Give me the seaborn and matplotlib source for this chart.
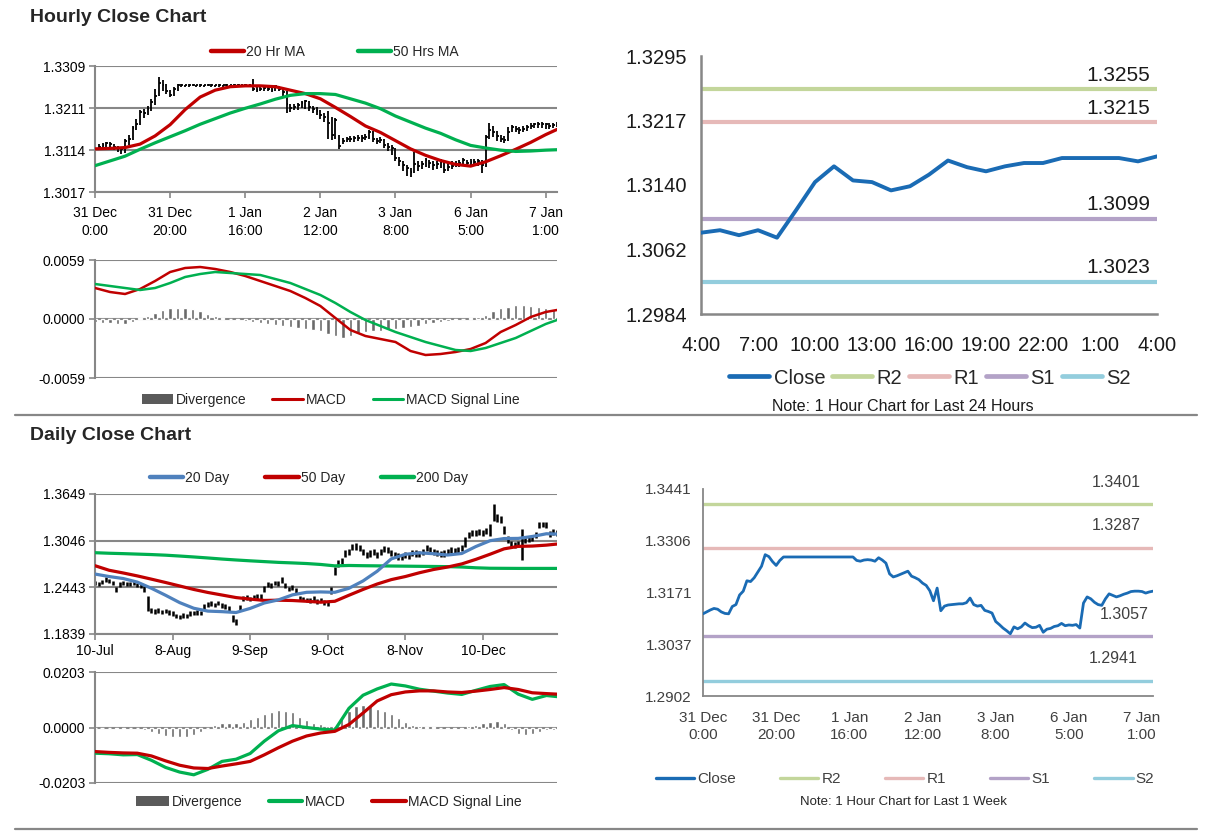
import matplotlib
matplotlib.use("Agg")
import matplotlib.pyplot as plt
import seaborn as sns
from matplotlib.lines import Line2D
from matplotlib.patches import Patch

# ---------------- DATA ----------------
# Hourly (last week) category axis
hourly_tick_pos = [0, 20, 40, 60, 80, 100, 120]
hourly_tick_labels = ["31 Dec\n0:00", "31 Dec\n20:00", "1 Jan\n16:00", "2 Jan\n12:00",
                      "3 Jan\n8:00", "6 Jan\n5:00", "7 Jan\n1:00"]
hourly_yticks = [1.3017, 1.3114, 1.3211, 1.3309]

hourly_close = [
    1.3116, 1.3121, 1.3126, 1.3130, 1.3128, 1.3121, 1.3117, 1.3116, 1.3135, 1.3140,
    1.3165, 1.3175, 1.3202, 1.3200, 1.3210, 1.3225, 1.3240, 1.3270, 1.3265, 1.3252,
    1.3242, 1.3255, 1.3264, 1.3264, 1.3264, 1.3264, 1.3264, 1.3264, 1.3264, 1.3264,
    1.3264, 1.3264, 1.3264, 1.3264, 1.3264, 1.3264, 1.3264, 1.3264, 1.3264, 1.3264,
    1.3264, 1.3264, 1.3255, 1.3253, 1.3256, 1.3257, 1.3256, 1.3253, 1.3262, 1.3256,
    1.3248, 1.3220, 1.3212, 1.3215, 1.3219, 1.3223, 1.3227, 1.3214, 1.3210, 1.3205,
    1.3196, 1.3190, 1.3176, 1.3150, 1.3183, 1.3124, 1.3136, 1.3139, 1.3140, 1.3141,
    1.3142, 1.3142, 1.3145, 1.3157, 1.3140, 1.3136, 1.3138, 1.3125, 1.3122, 1.3118,
    1.3096, 1.3088, 1.3079, 1.3072, 1.3064, 1.3082, 1.3077, 1.3082, 1.3092, 1.3085,
    1.3080, 1.3081, 1.3086, 1.3068, 1.3076, 1.3078, 1.3083, 1.3085, 1.3091, 1.3085,
    1.3087, 1.3086, 1.3088, 1.3079, 1.3144, 1.3160, 1.3155, 1.3146, 1.3140, 1.3138,
    1.3155, 1.3168, 1.3164, 1.3160, 1.3163, 1.3167, 1.3170, 1.3174, 1.3175, 1.3175,
    1.3174, 1.3170, 1.3173, 1.3175]

hourly_low = [
    1.3110, 1.3114, 1.3116, 1.3121, 1.3118, 1.3114, 1.3110, 1.3106, 1.3108, 1.3126,
    1.3138, 1.3160, 1.3172, 1.3188, 1.3195, 1.3204, 1.3218, 1.3240, 1.3252, 1.3245,
    1.3236, 1.3240, 1.3252, 1.3261, 1.3260, 1.3261, 1.3262, 1.3261, 1.3260, 1.3261,
    1.3262, 1.3261, 1.3260, 1.3261, 1.3261, 1.3262, 1.3260, 1.3261, 1.3261, 1.3260,
    1.3261, 1.3260, 1.3250, 1.3249, 1.3250, 1.3251, 1.3250, 1.3249, 1.3252, 1.3250,
    1.3240, 1.3201, 1.3203, 1.3206, 1.3208, 1.3212, 1.3210, 1.3205, 1.3200, 1.3195,
    1.3186, 1.3180, 1.3140, 1.3137, 1.3140, 1.3117, 1.3128, 1.3132, 1.3133, 1.3134,
    1.3135, 1.3134, 1.3138, 1.3140, 1.3132, 1.3128, 1.3130, 1.3118, 1.3112, 1.3102,
    1.3088, 1.3078, 1.3066, 1.3055, 1.3052, 1.3062, 1.3066, 1.3070, 1.3076, 1.3072,
    1.3068, 1.3070, 1.3072, 1.3060, 1.3066, 1.3070, 1.3074, 1.3076, 1.3080, 1.3075,
    1.3078, 1.3077, 1.3078, 1.3062, 1.3075, 1.3140, 1.3145, 1.3136, 1.3133, 1.3130,
    1.3135, 1.3155, 1.3155, 1.3152, 1.3156, 1.3158, 1.3162, 1.3165, 1.3166, 1.3166,
    1.3164, 1.3162, 1.3165, 1.3167]

hourly_high = [
    1.3124, 1.3128, 1.3131, 1.3134, 1.3132, 1.3128, 1.3124, 1.3121, 1.3140, 1.3150,
    1.3170, 1.3186, 1.3206, 1.3210, 1.3217, 1.3232, 1.3255, 1.3283, 1.3276, 1.3268,
    1.3254, 1.3260, 1.3267, 1.3267, 1.3266, 1.3267, 1.3268, 1.3266, 1.3267, 1.3266,
    1.3267, 1.3268, 1.3266, 1.3267, 1.3266, 1.3267, 1.3266, 1.3268, 1.3267, 1.3266,
    1.3267, 1.3266, 1.3278, 1.3260, 1.3261, 1.3261, 1.3260, 1.3258, 1.3266, 1.3263,
    1.3256, 1.3252, 1.3221, 1.3222, 1.3224, 1.3227, 1.3230, 1.3228, 1.3216, 1.3213,
    1.3208, 1.3200, 1.3205, 1.3190, 1.3188, 1.3150, 1.3143, 1.3145, 1.3146, 1.3147,
    1.3148, 1.3148, 1.3152, 1.3160, 1.3158, 1.3143, 1.3144, 1.3140, 1.3130, 1.3125,
    1.3120, 1.3098, 1.3090, 1.3080, 1.3072, 1.3109, 1.3088, 1.3090, 1.3096, 1.3092,
    1.3088, 1.3088, 1.3094, 1.3090, 1.3084, 1.3088, 1.3090, 1.3091, 1.3096, 1.3092,
    1.3094, 1.3093, 1.3094, 1.3092, 1.3150, 1.3176, 1.3170, 1.3158, 1.3150, 1.3146,
    1.3168, 1.3172, 1.3170, 1.3168, 1.3170, 1.3172, 1.3176, 1.3178, 1.3179, 1.3180,
    1.3178, 1.3176, 1.3178, 1.3180]

ma_hours = [0, 4, 8, 12, 16, 20, 24, 28, 32, 36, 40, 44, 48, 52, 56, 60, 64, 68, 72, 76,
            80, 84, 88, 92, 96, 100, 104, 108, 112, 116, 120, 123]
ma20_hr = [1.3117, 1.3118, 1.3120, 1.3128, 1.3147, 1.3173, 1.3208, 1.3237, 1.3253, 1.3261,
           1.3263, 1.3263, 1.3261, 1.3253, 1.3245, 1.3233, 1.3213, 1.3192, 1.3170, 1.3155,
           1.3136, 1.3117, 1.3102, 1.3090, 1.3081, 1.3077, 1.3087, 1.3101, 1.3116, 1.3132,
           1.3150, 1.3162]
ma50_hr = [1.3078, 1.3089, 1.3100, 1.3116, 1.3131, 1.3145, 1.3159, 1.3174, 1.3187, 1.3200,
           1.3211, 1.3221, 1.3232, 1.3241, 1.3245, 1.3245, 1.3243, 1.3233, 1.3223, 1.3210,
           1.3193, 1.3179, 1.3165, 1.3153, 1.3138, 1.3125, 1.3119, 1.3114, 1.3111, 1.3112,
           1.3114, 1.3115]

hr_macd = [0.0031, 0.0027, 0.0025, 0.0030, 0.0038, 0.0047, 0.0051, 0.0052, 0.0050, 0.0047,
           0.0043, 0.0038, 0.0033, 0.0028, 0.0021, 0.0013, 0.0001, -0.0011, -0.0017, -0.0020,
           -0.0023, -0.0032, -0.0036, -0.0035, -0.0033, -0.0030, -0.0024, -0.0013, -0.0006, 0.0002,
           0.0007, 0.0009]
hr_signal = [0.0035, 0.0033, 0.0031, 0.0029, 0.0031, 0.0036, 0.0042, 0.0045, 0.0047, 0.0046,
             0.0045, 0.0044, 0.0040, 0.0036, 0.0030, 0.0024, 0.0016, 0.0007, -0.0001, -0.0007,
             -0.0013, -0.0018, -0.0023, -0.0027, -0.0031, -0.0032, -0.0029, -0.0024, -0.0019, -0.0012,
             -0.0005, -0.0001]
div_hours = [0, 2, 4, 6, 8, 10, 12, 14, 16, 18, 20, 22, 24, 26, 28, 30, 32, 34, 36, 38,
             40, 42, 44, 46, 48, 50, 52, 54, 56, 58, 60, 62, 64, 66, 68, 70, 72, 74, 76, 78,
             80, 82, 84, 86, 88, 90, 92, 94, 96, 98, 100, 102, 104, 106, 108, 110, 112, 114,
             116, 118, 120, 122]
hr_divergence = [-0.0003, -0.0004, -0.0004, -0.0005, -0.0005, -0.0003, 0.0001, 0.0003, 0.0006, 0.0009,
                 0.0011, 0.0011, 0.0011, 0.0010, 0.0008, 0.0005, 0.0003, 0.0001, 0.0000, -0.0001,
                 -0.0002, -0.0003, -0.0004, -0.0005, -0.0006, -0.0007, -0.0008, -0.0009, -0.0010, -0.0011,
                 -0.0012, -0.0015, -0.0017, -0.0019, -0.0017, -0.0014, -0.0013, -0.0012, -0.0012, -0.0011,
                 -0.0010, -0.0009, -0.0008, -0.0007, -0.0005, -0.0004, -0.0003, -0.0002, -0.0001, 0.0000,
                 0.0001, 0.0002, 0.0004, 0.0008, 0.0011, 0.0012, 0.0014, 0.0014, 0.0013, 0.0012,
                 0.0011, 0.0010]
hr_macd_yticks = [-0.0059, 0.0, 0.0059]

# Last 24 hours
h24_tick_labels = ["4:00", "7:00", "10:00", "13:00", "16:00", "19:00", "22:00", "1:00", "4:00"]
h24_tick_pos = [0, 3, 6, 9, 12, 15, 18, 21, 24]
h24_close = [1.3082, 1.3085, 1.3079, 1.3085, 1.3076, 1.3109, 1.3143, 1.3162, 1.3145, 1.3143,
             1.3133, 1.3138, 1.3152, 1.3169, 1.3161, 1.3156, 1.3162, 1.3166, 1.3166, 1.3172,
             1.3172, 1.3172, 1.3172, 1.3168, 1.3174]
h24_yticks = [1.2984, 1.3062, 1.3140, 1.3217, 1.3295]
h24_levels = {"R2": 1.3255, "R1": 1.3215, "S1": 1.3099, "S2": 1.3023}

# Last week levels
wk_yticks = [1.2902, 1.3037, 1.3171, 1.3306, 1.3441]
wk_levels = {"R2": 1.3401, "R1": 1.3287, "S1": 1.3057, "S2": 1.2941}

# Daily
daily_tick_pos = [0, 22, 44, 66, 88, 110]
daily_tick_labels = ["10-Jul", "8-Aug", "9-Sep", "9-Oct", "8-Nov", "10-Dec"]
daily_yticks = [1.1839, 1.2443, 1.3046, 1.3649]
daily_low = [
    1.2470, 1.2465, 1.2480, 1.2510, 1.2500, 1.2470, 1.2385, 1.2450, 1.2470, 1.2465,
    1.2460, 1.2470, 1.2450, 1.2430, 1.2380, 1.2140, 1.2110, 1.2100, 1.2115, 1.2095,
    1.2105, 1.2090, 1.2070, 1.2040, 1.2030, 1.2050, 1.2045, 1.2075, 1.2080, 1.2090,
    1.2085, 1.2150, 1.2190, 1.2200, 1.2185, 1.2210, 1.2180, 1.2165, 1.2130, 1.1990,
    1.1960, 1.2130, 1.2260, 1.2280, 1.2260, 1.2280, 1.2295, 1.2290, 1.2380, 1.2450,
    1.2440, 1.2470, 1.2460, 1.2495, 1.2440, 1.2390, 1.2410, 1.2360, 1.2265, 1.2260,
    1.2250, 1.2240, 1.2270, 1.2230, 1.2250, 1.2220, 1.2195, 1.2350, 1.2600, 1.2700,
    1.2740, 1.2840, 1.2860, 1.2920, 1.2930, 1.2910, 1.2860, 1.2820, 1.2840, 1.2860,
    1.2820, 1.2860, 1.2900, 1.2890, 1.2850, 1.2820, 1.2800, 1.2790, 1.2820, 1.2810,
    1.2850, 1.2840, 1.2830, 1.2860, 1.2910, 1.2880, 1.2860, 1.2850, 1.2830, 1.2840,
    1.2860, 1.2880, 1.2870, 1.2890, 1.2910, 1.2970, 1.3080, 1.3100, 1.3110, 1.3120,
    1.3100, 1.3130, 1.3110, 1.3300, 1.3290, 1.3280, 1.3130, 1.3010, 1.2960, 1.2950,
    1.2960, 1.2800, 1.3010, 1.3030, 1.3040, 1.3080, 1.3210, 1.3220, 1.3210, 1.3090,
    1.3120, 1.3100]
daily_high = [
    1.2520, 1.2515, 1.2535, 1.2570, 1.2555, 1.2525, 1.2445, 1.2505, 1.2530, 1.2515,
    1.2510, 1.2520, 1.2500, 1.2485, 1.2460, 1.2330, 1.2170, 1.2160, 1.2175, 1.2155,
    1.2160, 1.2150, 1.2130, 1.2095, 1.2090, 1.2110, 1.2100, 1.2135, 1.2140, 1.2150,
    1.2140, 1.2225, 1.2250, 1.2260, 1.2245, 1.2270, 1.2240, 1.2225, 1.2200, 1.2090,
    1.2030, 1.2220, 1.2330, 1.2340, 1.2320, 1.2340, 1.2355, 1.2350, 1.2455, 1.2510,
    1.2500, 1.2530, 1.2520, 1.2570, 1.2500, 1.2450, 1.2470, 1.2430, 1.2335, 1.2320,
    1.2310, 1.2300, 1.2330, 1.2290, 1.2310, 1.2280, 1.2250, 1.2450, 1.2700, 1.2800,
    1.2820, 1.2920, 1.2940, 1.3000, 1.3010, 1.2990, 1.2940, 1.2900, 1.2920, 1.2940,
    1.2900, 1.2940, 1.2980, 1.2970, 1.2930, 1.2900, 1.2880, 1.2870, 1.2900, 1.2890,
    1.2930, 1.2920, 1.2910, 1.2940, 1.2990, 1.2960, 1.2940, 1.2930, 1.2910, 1.2920,
    1.2940, 1.2960, 1.2950, 1.2970, 1.2990, 1.3090, 1.3160, 1.3180, 1.3190, 1.3200,
    1.3180, 1.3210, 1.3260, 1.3515, 1.3390, 1.3360, 1.3230, 1.3110, 1.3040, 1.3030,
    1.3040, 1.3200, 1.3090, 1.3110, 1.3120, 1.3160, 1.3285, 1.3285, 1.3285, 1.3170,
    1.3200, 1.3180]

ma_days = [0, 4, 8, 12, 16, 20, 24, 28, 32, 36, 40, 44, 48, 52, 56, 60, 64, 68, 72, 76,
           80, 84, 88, 92, 96, 100, 104, 108, 112, 116, 120, 124, 128, 131]
ma20_day = [1.2614, 1.2582, 1.2556, 1.2510, 1.2430, 1.2340, 1.2245, 1.2172, 1.2135, 1.2128,
            1.2117, 1.2170, 1.2240, 1.2280, 1.2345, 1.2378, 1.2383, 1.2378, 1.2430, 1.2525,
            1.2650, 1.2810, 1.2870, 1.2888, 1.2877, 1.2860, 1.2880, 1.2970, 1.3045, 1.3073,
            1.3075, 1.3100, 1.3135, 1.3131]
ma50_day = [1.2722, 1.2663, 1.2628, 1.2590, 1.2548, 1.2505, 1.2460, 1.2415, 1.2376, 1.2343,
            1.2310, 1.2290, 1.2273, 1.2276, 1.2272, 1.2262, 1.2250, 1.2262, 1.2340, 1.2415,
            1.2485, 1.2542, 1.2582, 1.2631, 1.2673, 1.2705, 1.2745, 1.2804, 1.2870, 1.2940,
            1.2972, 1.2976, 1.2988, 1.3002]
ma200_day = [1.2890, 1.2883, 1.2878, 1.2872, 1.2866, 1.2858, 1.2847, 1.2835, 1.2822, 1.2808,
             1.2796, 1.2785, 1.2775, 1.2765, 1.2758, 1.2750, 1.2738, 1.2720, 1.2725, 1.2722,
             1.2720, 1.2718, 1.2716, 1.2714, 1.2712, 1.2710, 1.2705, 1.2695, 1.2689, 1.2688,
             1.2687, 1.2687, 1.2687, 1.2687]
day_macd = [-0.0094, -0.0096, -0.0100, -0.0099, -0.0120, -0.0146, -0.0163, -0.0173, -0.0153, -0.0124,
            -0.0116, -0.0095, -0.0050, -0.0012, 0.0007, 0.0000, -0.0006, -0.0009, 0.0070, 0.0118,
            0.0141, 0.0159, 0.0152, 0.0140, 0.0133, 0.0126, 0.0121, 0.0136, 0.0150, 0.0157,
            0.0122, 0.0103, 0.0117, 0.0113]
day_signal = [-0.0088, -0.0091, -0.0093, -0.0094, -0.0104, -0.0122, -0.0138, -0.0148, -0.0150, -0.0141,
              -0.0133, -0.0124, -0.0100, -0.0074, -0.0050, -0.0031, -0.0020, -0.0014, 0.0011, 0.0053,
              0.0097, 0.0120, 0.0130, 0.0134, 0.0134, 0.0130, 0.0128, 0.0133, 0.0139, 0.0146,
              0.0139, 0.0127, 0.0124, 0.0122]
div_days = [0, 2, 4, 6, 8, 10, 12, 14, 16, 18, 20, 22, 24, 26, 28, 30, 32, 34, 36, 38,
            40, 42, 44, 46, 48, 50, 52, 54, 56, 58, 60, 62, 64, 66, 68, 70, 72, 74, 76, 78,
            80, 82, 84, 86, 88, 90, 92, 94, 96, 98, 100, 102, 104, 106, 108, 110, 112, 114,
            116, 118, 120, 122, 124, 126, 128, 130]
day_divergence = [-0.0003, -0.0003, -0.0003, -0.0004, -0.0004, -0.0003, -0.0003, -0.0010, -0.0018, -0.0025,
                  -0.0030, -0.0033, -0.0034, -0.0033, -0.0028, -0.0015, -0.0003, 0.0010, 0.0017, 0.0018,
                  0.0015, 0.0020, 0.0030, 0.0038, 0.0048, 0.0058, 0.0064, 0.0060, 0.0055, 0.0040,
                  0.0028, 0.0018, 0.0012, 0.0006, 0.0004, 0.0035, 0.0060, 0.0078, 0.0083, 0.0078,
                  0.0068, 0.0060, 0.0050, 0.0035, 0.0020, 0.0010, 0.0005, 0.0003, 0.0001, -0.0002,
                  -0.0004, -0.0006, -0.0004, 0.0005, 0.0010, 0.0015, 0.0020, 0.0025, 0.0015, -0.0010,
                  -0.0022, -0.0026, -0.0024, -0.0018, -0.0010, -0.0008]
day_macd_yticks = [-0.0203, 0.0, 0.0203]

# ---------------- STYLE ----------------
sns.set_theme(style="white")
plt.rcParams["font.family"] = ["Liberation Sans", "DejaVu Sans"]

GRID = "#878787"
RED = "#c00000"
GREEN = "#00b050"
BLUE20 = "#4f81bd"
CLOSE_BLUE = "#1a6bb4"
DIVC = "#6a6a6a"
LEVEL_COLORS = {"R2": "#c3d69b", "R1": "#e6b9b8", "S1": "#b3a2c7", "S2": "#93cddd"}

W, H = 1212, 834
fig = plt.figure(figsize=(W / 100, H / 100), dpi=100)
fig.patch.set_facecolor("white")


def box(left, top, right, bottom):
    return [left / W, 1 - bottom / H, (right - left) / W, (bottom - top) / H]


def style_left(ax, yticks, fmt="%.4f", xticks=None, xlabels=None, xpad=3):
    ax.set_facecolor("white")
    for s in ["top", "right"]:
        ax.spines[s].set_visible(False)
    for s in ["left", "bottom"]:
        ax.spines[s].set_color(GRID)
        ax.spines[s].set_linewidth(1.5)
    ax.set_yticks(yticks)
    ax.set_yticklabels([fmt % v for v in yticks])
    ax.yaxis.grid(True, color=GRID, linewidth=1.5)
    ax.xaxis.grid(False)
    ax.set_axisbelow(True)
    ax.tick_params(axis="y", which="both", left=True, length=4, width=1.2, color=GRID,
                   labelsize=10, pad=3, labelcolor="black")
    if xticks is not None:
        ax.set_xticks(xticks)
        ax.set_xticklabels(xlabels)
        ax.tick_params(axis="x", bottom=True, length=4, width=1.2, color=GRID,
                       labelsize=10, pad=xpad, labelcolor="black")
        for t in ax.get_xticklabels():
            t.set_linespacing(1.35)
    else:
        ax.set_xticks([])
    ax.set_xlabel("")
    ax.set_ylabel("")


def line(ax, x, y, color, lw, z=3):
    sns.lineplot(x=x, y=y, ax=ax, color=color, linewidth=lw, estimator=None,
                 sort=False, legend=False, zorder=z)


# ---------------- HOURLY PRICE ----------------
fig.text(30 / W, 1 - 18 / H, "Hourly Close Chart", fontsize=14, fontweight="bold",
         ha="left", va="center")
ax1 = fig.add_axes(box(95, 66, 557, 192))
hours = list(range(len(hourly_close)))
ax1.vlines(hours, hourly_low, hourly_high, color="black", linewidth=1.3, zorder=2)
ax1.hlines(hourly_close, [h for h in hours], [h + 0.5 for h in hours], color="black",
           linewidth=1.3, zorder=2)
line(ax1, ma_hours, ma20_hr, RED, 2.3)
line(ax1, ma_hours, ma50_hr, GREEN, 2.3)
ax1.set_xlim(0, 123)
ax1.set_ylim(hourly_yticks[0], hourly_yticks[-1])
style_left(ax1, hourly_yticks, xticks=hourly_tick_pos, xlabels=hourly_tick_labels, xpad=6)
fig.legend(handles=[Line2D([], [], color=RED, lw=3.2), Line2D([], [], color=GREEN, lw=3.2)],
           labels=["20 Hr MA", "50 Hrs MA"], loc="center", bbox_to_anchor=(335 / W, 1 - 52 / H),
           ncol=2, frameon=False, fontsize=10, handlelength=2.4, handletextpad=0.15,
           columnspacing=3.8)

# ---------------- HOURLY MACD ----------------
ax2 = fig.add_axes(box(95, 260, 557, 378))
ax2.bar(div_hours, hr_divergence, width=0.9, color=DIVC, zorder=2)
line(ax2, ma_hours, hr_macd, RED, 1.8)
line(ax2, ma_hours, hr_signal, GREEN, 1.8)
ax2.set_xlim(0, 123)
ax2.set_ylim(hr_macd_yticks[0], hr_macd_yticks[-1])
style_left(ax2, hr_macd_yticks)
ax2.spines["bottom"].set_visible(False)
fig.legend(handles=[Patch(facecolor="#5a5a5a", edgecolor="none"),
                    Line2D([], [], color=RED, lw=2.2), Line2D([], [], color=GREEN, lw=2.2)],
           labels=["Divergence", "MACD", "MACD Signal Line"], loc="center",
           bbox_to_anchor=(331 / W, 1 - 400 / H), ncol=3, frameon=False, fontsize=10,
           handlelength=2.2, handleheight=0.8, handletextpad=0.2, columnspacing=1.9)

fig.add_artist(Line2D([15 / W, 1197 / W], [1 - 415 / H] * 2, color=GRID, linewidth=1.6))

# ---------------- 24H CHART ----------------
ax3 = fig.add_axes(box(701, 56, 1157, 314))
for name, val in h24_levels.items():
    line(ax3, [0, 24], [val, val], LEVEL_COLORS[name], 3.0, z=2)
    ax3.annotate(f"{val:.4f}", xy=(24, val), xytext=(-5, 3), textcoords="offset points",
                 ha="right", va="bottom", fontsize=15, color="#1a1a1a")
line(ax3, list(range(len(h24_close))), h24_close, CLOSE_BLUE, 2.8, z=4)
ax3.set_xlim(0, 24)
ax3.set_ylim(h24_yticks[0], h24_yticks[-1])
ax3.set_facecolor("white")
for s in ["top", "right"]:
    ax3.spines[s].set_visible(False)
for s in ["left", "bottom"]:
    ax3.spines[s].set_color(GRID)
    ax3.spines[s].set_linewidth(1.8)
ax3.set_yticks(h24_yticks)
ax3.set_yticklabels([f"{v:.4f}" for v in h24_yticks], fontsize=14.5)
ax3.set_xticks(h24_tick_pos)
ax3.set_xticklabels(h24_tick_labels, fontsize=14.5)
ax3.tick_params(axis="both", length=6, width=1.5, color=GRID, labelcolor="#1a1a1a", pad=4)
ax3.tick_params(axis="x", pad=10)
ax3.grid(False)
ax3.set_xlabel("")
ax3.set_ylabel("")
h3 = [Line2D([], [], color=CLOSE_BLUE, lw=3.4)] + \
     [Line2D([], [], color=LEVEL_COLORS[k], lw=3.4) for k in ["R2", "R1", "S1", "S2"]]
fig.legend(handles=h3, labels=["Close", "R2", "R1", "S1", "S2"], loc="center",
           bbox_to_anchor=(930 / W, 1 - 378 / H), ncol=5, frameon=False,
           fontsize=14.5, handlelength=2.0, handletextpad=0.2, columnspacing=0.35)
fig.text(903 / W, 1 - 406 / H, "Note: 1 Hour Chart for Last 24 Hours",
         fontsize=11.5, ha="center", va="center", color="#1a1a1a")

# ---------------- DAILY PRICE ----------------
fig.text(30 / W, 1 - 436 / H, "Daily Close Chart", fontsize=14, fontweight="bold",
         ha="left", va="center")
ax4 = fig.add_axes(box(95, 494, 557, 634))
days = list(range(len(daily_low)))
ax4.vlines(days, daily_low, daily_high, color="black", linewidth=1.8, zorder=2)
line(ax4, ma_days, ma200_day, GREEN, 2.3)
line(ax4, ma_days, ma50_day, RED, 2.3)
line(ax4, ma_days, ma20_day, BLUE20, 2.3)
ax4.set_xlim(0, 131)
ax4.set_ylim(daily_yticks[0], daily_yticks[-1])
style_left(ax4, daily_yticks, xticks=daily_tick_pos, xlabels=daily_tick_labels)
fig.legend(handles=[Line2D([], [], color=BLUE20, lw=3.2), Line2D([], [], color=RED, lw=3.2),
                    Line2D([], [], color=GREEN, lw=3.2)],
           labels=["20 Day", "50 Day", "200 Day"], loc="center",
           bbox_to_anchor=(309 / W, 1 - 478 / H), ncol=3, frameon=False, fontsize=10,
           handlelength=2.4, handletextpad=0.15, columnspacing=2.6)

# ---------------- DAILY MACD ----------------
ax5 = fig.add_axes(box(95, 672, 557, 783))
ax5.bar(div_days, day_divergence, width=0.9, color=DIVC, zorder=2)
line(ax5, ma_days, day_macd, GREEN, 2.3)
line(ax5, ma_days, day_signal, RED, 2.3)
ax5.set_xlim(0, 131)
ax5.set_ylim(day_macd_yticks[0], day_macd_yticks[-1])
style_left(ax5, day_macd_yticks)
ax5.spines["bottom"].set_visible(False)
fig.legend(handles=[Patch(facecolor="#5a5a5a", edgecolor="none"),
                    Line2D([], [], color=GREEN, lw=3.0), Line2D([], [], color=RED, lw=3.0)],
           labels=["Divergence", "MACD", "MACD Signal Line"], loc="center",
           bbox_to_anchor=(329 / W, 1 - 802 / H), ncol=3, frameon=False, fontsize=10,
           handlelength=2.4, handleheight=0.8, handletextpad=0.2, columnspacing=1.9)

fig.add_artist(Line2D([15 / W, 1197 / W], [1 - 829 / H] * 2, color=GRID, linewidth=1.6))

# ---------------- WEEKLY CHART ----------------
ax6 = fig.add_axes(box(703, 489, 1153, 696))
label_x = {"R2": 113, "R1": 113, "S1": 115, "S2": 112}
for name, val in wk_levels.items():
    line(ax6, [0, 123], [val, val], LEVEL_COLORS[name], 2.4, z=2)
    ax6.annotate(f"{val:.4f}", xy=(label_x[name], val), xytext=(0, 16), textcoords="offset points",
                 ha="center", va="center", fontsize=11.5, color="#404040")
line(ax6, hours, hourly_close, CLOSE_BLUE, 2.0, z=4)
ax6.set_xlim(0, 123)
ax6.set_ylim(wk_yticks[0], wk_yticks[-1])
ax6.set_facecolor("white")
for s in ["top", "right"]:
    ax6.spines[s].set_visible(False)
for s in ["left", "bottom"]:
    ax6.spines[s].set_color(GRID)
    ax6.spines[s].set_linewidth(1.3)
ax6.set_yticks(wk_yticks)
ax6.set_yticklabels([f"{v:.4f}" for v in wk_yticks], fontsize=11)
ax6.set_xticks(hourly_tick_pos)
ax6.set_xticklabels(hourly_tick_labels, fontsize=11)
for t in ax6.get_xticklabels():
    t.set_linespacing(1.25)
ax6.tick_params(axis="both", length=5, width=1.2, color=GRID, labelcolor="#404040", pad=3)
ax6.tick_params(axis="x", pad=6)
ax6.grid(False)
ax6.set_xlabel("")
ax6.set_ylabel("")
h6 = [Line2D([], [], color=CLOSE_BLUE, lw=2.4)] + \
     [Line2D([], [], color=LEVEL_COLORS[k], lw=2.4) for k in ["R2", "R1", "S1", "S2"]]
fig.legend(handles=h6, labels=["Close", "R2", "R1", "S1", "S2"], loc="center",
           bbox_to_anchor=(905 / W, 1 - 779 / H), ncol=5, frameon=False, fontsize=11,
           handlelength=2.5, handletextpad=0.2, columnspacing=2.9, labelcolor="#404040")
fig.text(903 / W, 1 - 802 / H, "Note: 1 Hour Chart for Last 1 Week", fontsize=9.5,
         ha="center", va="center", color="#262626")

fig.savefig("out.png", dpi=100, facecolor="white")
